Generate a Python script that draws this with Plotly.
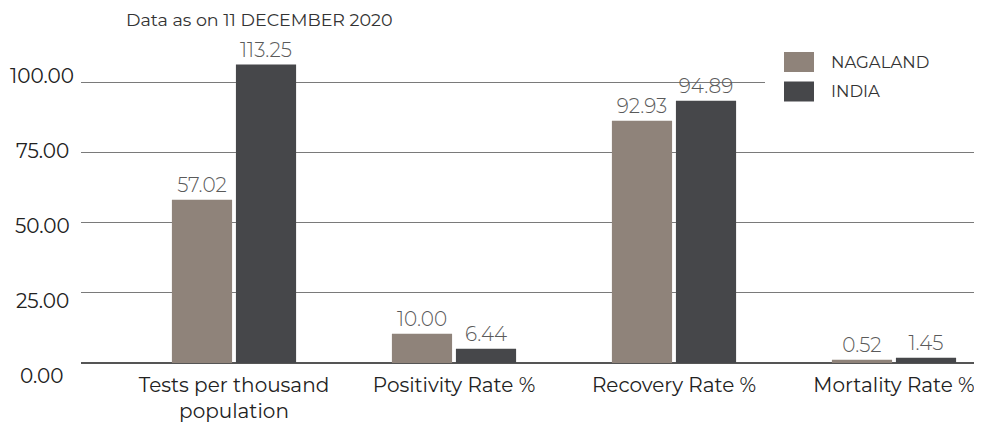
import plotly.graph_objects as go

categories = ["Tests per thousand<br>population", "Positivity Rate %", "Recovery Rate %", "Mortality Rate %"]
nagaland_bar = [58.1, 10.4, 86.2, 1.2]
india_bar = [106.2, 5.1, 93.3, 1.9]
nagaland_labels = ["57.02", "10.00", "92.93", "0.52"]
india_labels = ["113.25", "6.44", "94.89", "1.45"]
y_ticks = [0, 25, 50, 75, 100]
y_tick_labels = ["0.00", "25.00", "50.00", "75.00", "100.00"]
series_names = ["NAGALAND", "INDIA"]
colors = ["#8f837a", "#46474a"]

# page offset of the plot div (default body margin)
OFF = 8
W, H = 982 - OFF, 425 - OFF
ml, mr, mt, mb = 81 - OFF, 2, 40 - OFF, 62
pw, ph = W - ml - mr, H - mt - mb
PX_PER_UNIT = 2.81
CAT_PX = 220


def px_x(x):  # reference page pixel -> paper x
    return (x - OFF - ml) / pw


def px_y(y):  # reference page pixel -> paper y
    return (H - mb - (y - OFF)) / ph


FONT = "Montserrat, Lato, 'Open Sans', sans-serif"

fig = go.Figure()
for vals, labels, name, col in [(nagaland_bar, nagaland_labels, series_names[0], colors[0]),
                                (india_bar, india_labels, series_names[1], colors[1])]:
    fig.add_trace(go.Bar(
        x=categories, y=vals, name=name, marker=dict(color=col, line=dict(width=0)),
        text=labels, textposition="outside", cliponaxis=False, constraintext="none",
        textfont=dict(family=FONT, size=20, color="#5a5a5a", weight=300),
        showlegend=False, hoverinfo="skip"))

annotations = []
# y tick labels (centred, as in the reference)
for v, t in zip(y_ticks, y_tick_labels):
    annotations.append(dict(x=px_x(42), xref="paper", y=px_y(376 - 3.005 * v), yref="paper", text=t,
                            showarrow=False, xanchor="center", yanchor="middle",
                            font=dict(family=FONT, size=20, color="#222222")))
annotations.append(dict(x=px_x(259), xref="paper", y=px_y(20), yref="paper",
                        text="Data as on 11 DECEMBER 2020", showarrow=False,
                        xanchor="center", yanchor="middle",
                        font=dict(family=FONT, size=17.5, color="#333333")))

shapes = [dict(type="rect", xref="paper", yref="paper",
               x0=px_x(765), x1=1.01, y0=px_y(112), y1=px_y(45),
               fillcolor="white", line=dict(width=0), layer="above")]
for i, (name, col) in enumerate(zip(series_names, colors)):
    top = 52 + 29.5 * i
    shapes.append(dict(type="rect", xref="paper", yref="paper",
                       x0=px_x(784), x1=px_x(814), y0=px_y(top + 20), y1=px_y(top),
                       fillcolor=col, line=dict(width=0), layer="above"))
    annotations.append(dict(x=px_x(829), xref="paper", y=px_y(top + 10), yref="paper",
                            text=name, showarrow=False, xanchor="left", yanchor="middle",
                            font=dict(family=FONT, size=16.5, color="#333333")))

r0 = -(234 - OFF - ml) / CAT_PX
fig.update_layout(
    width=W, height=H, margin=dict(l=ml, r=mr, t=mt, b=mb, autoexpand=False),
    paper_bgcolor="white", plot_bgcolor="white",
    barmode="group", bargap=0.418, bargroupgap=0.06,
    font=dict(family=FONT, color="#222222"),
    xaxis=dict(type="category", range=[r0, r0 + pw / CAT_PX], automargin=False,
               showgrid=False, showline=False, ticks="", ticklabelstandoff=8,
               tickfont=dict(family=FONT, size=20, color="#222222")),
    yaxis=dict(range=[0, ph / PX_PER_UNIT], tickvals=y_ticks, showticklabels=False,
               showgrid=True, gridcolor="#7a7a7a", gridwidth=1, automargin=False,
               zeroline=True, zerolinecolor="#555555", zerolinewidth=2, fixedrange=True),
    annotations=annotations, shapes=shapes,
)

fig.write_html("out.html")
